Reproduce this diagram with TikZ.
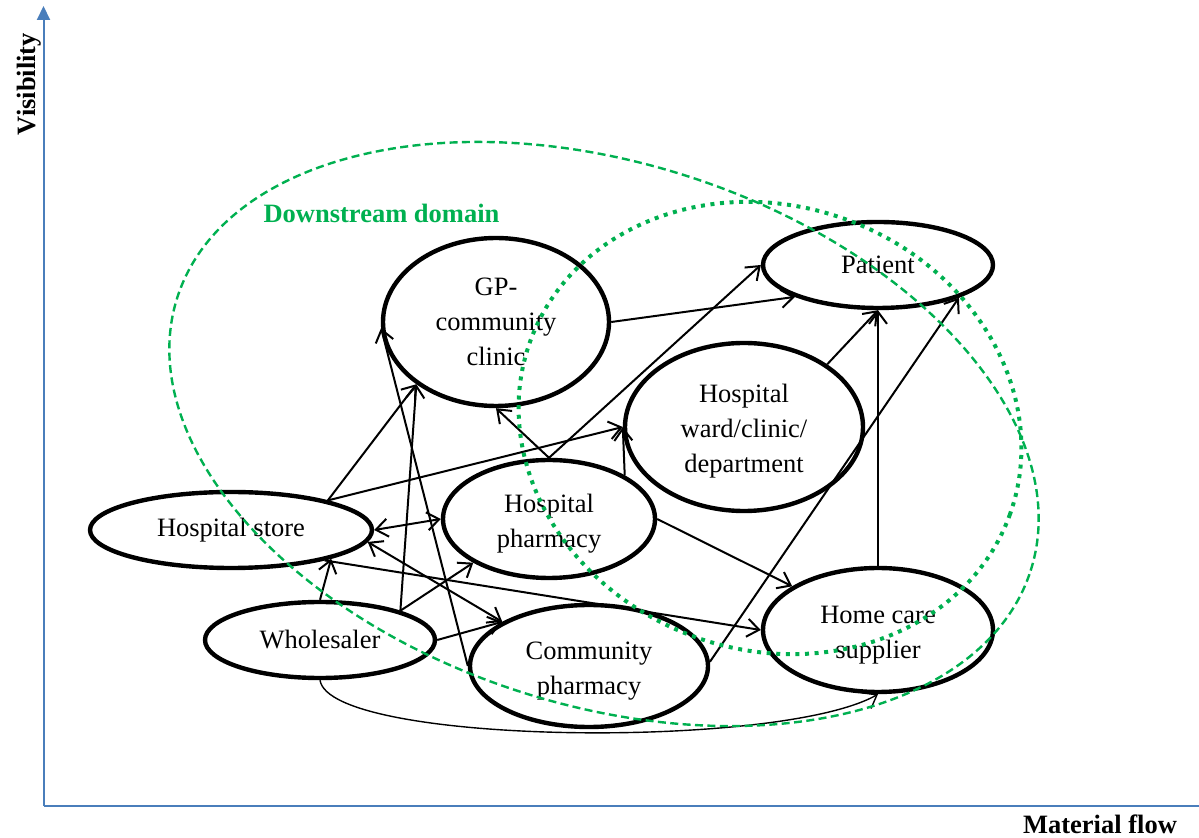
\documentclass[tikz,border=0pt]{standalone}
\usepackage{fontspec}
\setmainfont{Liberation Serif}
\usetikzlibrary{arrows.meta,shapes.geometric}

\definecolor{axisblue}{RGB}{74,126,187}
\definecolor{domaingreen}{RGB}{0,176,80}

% stacked lines, set a little below the optical centre of the shape
\newcommand\droplines[1]{\raisebox{-2pt}[\height][\depth]{\begin{tabular}{@{}c@{}}#1\end{tabular}}}

\begin{document}
\begin{tikzpicture}[x=0.5pt,y=-0.5pt,
  font=\fontsize{13.25}{17.5}\selectfont,
  actor/.style={draw, ellipse, line width=2.2pt, inner sep=0pt, align=center},
  flow/.style={line width=1pt, -{Straight Barb[length=6pt,width=9pt]}},
  twoway/.style={line width=1pt, {Straight Barb[length=6pt,width=9pt]}-{Straight Barb[length=6pt,width=9pt]}},
  lightflow/.style={line width=0.7pt, -{Straight Barb[length=6pt,width=9pt]}},
  axis/.style={draw=axisblue, line width=1pt},
  axislabel/.style={font=\fontsize{13.25}{16}\selectfont\bfseries, inner sep=0pt},
  domainline/.style={draw=domaingreen, line width=1.2pt, dash pattern=on 4pt off 2.2pt},
  domaindots/.style={draw=domaingreen, line width=2pt, dash pattern=on 2pt off 2.8pt},
]
\useasboundingbox (0,0) rectangle (1199,838);

% axes
\coordinate (o) at (43.5,806);
\coordinate (ytop) at (43.5,6);
\coordinate (xend) at (1199,806);
\draw[axis, -{Triangle[length=7pt,width=6.5pt]}] (o) -- (ytop);
\draw[axis] (o) -- (xend);
\node[axislabel, rotate=90, anchor=base] (vis) at (35,84) {Visibility};
\node[axislabel, anchor=base] (mat) at (1100,833) {Material flow};

% actors
\node[actor, minimum width=113pt, minimum height=84pt] (gp) at (496,322) {GP-\\community\\clinic};
\node[actor, minimum width=115pt, minimum height=43pt] (pt) at (878,265) {Patient};
\node[actor, minimum width=119pt, minimum height=84pt] (wd) at (744,427) {\droplines{Hospital\\ward/clinic/\\department}};
\node[actor, minimum width=106pt, minimum height=59pt] (ph) at (549,519) {\droplines{Hospital\\pharmacy}};
\node[actor, minimum width=141pt, minimum height=38pt] (st) at (231,530) {Hospital store};
\node[actor, minimum width=115pt, minimum height=38pt] (wh) at (320,640) {Wholesaler};
\node[actor, minimum width=119pt, minimum height=61pt] (cp) at (589,666) {\droplines{Community\\pharmacy}};
\node[actor, minimum width=115pt, minimum height=62pt] (hc) at (878,630) {\droplines{Home care\\supplier}};

% material flows
\draw[flow] (gp.east) -- (pt.201);
\draw[flow] (ph.north) -- (gp.south);
\draw[flow] (ph.north) -- (pt.west);
\draw[flow] (wd.37) -- (pt.south);
\draw[flow] (hc.north) -- (pt.south);
\draw[flow] (cp.2) -- (pt.-22);
\draw[flow] (st.17) -- (gp.218);
\draw[flow] (wh.20) -- (gp.218);
\draw[flow] (cp.west) -- (gp.183);
\draw[twoway] (st.east) -- (ph.west);
\draw[flow] (st.17) -- (wd.west);
\draw[flow] (ph.30) -- (wd.west);
\draw[flow] (wh.north) -- (st.-16);
\draw[twoway] (st.-5) -- (cp.153);
\draw[flow] (wh.20) -- (ph.210);
\draw[flow] (wh.east) -- (cp.153);
\draw[flow] (st.-18) -- (hc.west);
\draw[flow] (ph.east) -- (hc.153);
\draw[lightflow] (wh.south) .. controls (330,745) and (780,750) .. (hc.south);

% domains
\draw[domainline, rotate around={-17.75:(604,434)}] (604,434) ellipse [x radius=224pt, y radius=135.5pt];
\draw[domaindots, rotate around={-20:(770,428)}] (770,428) ellipse [x radius=127.5pt, y radius=111pt];
\node[font=\fontsize{13.25}{16}\selectfont\bfseries, text=domaingreen, inner sep=0pt, anchor=base] (dom) at (381.5,223) {Downstream domain};

\end{tikzpicture}
\end{document}
